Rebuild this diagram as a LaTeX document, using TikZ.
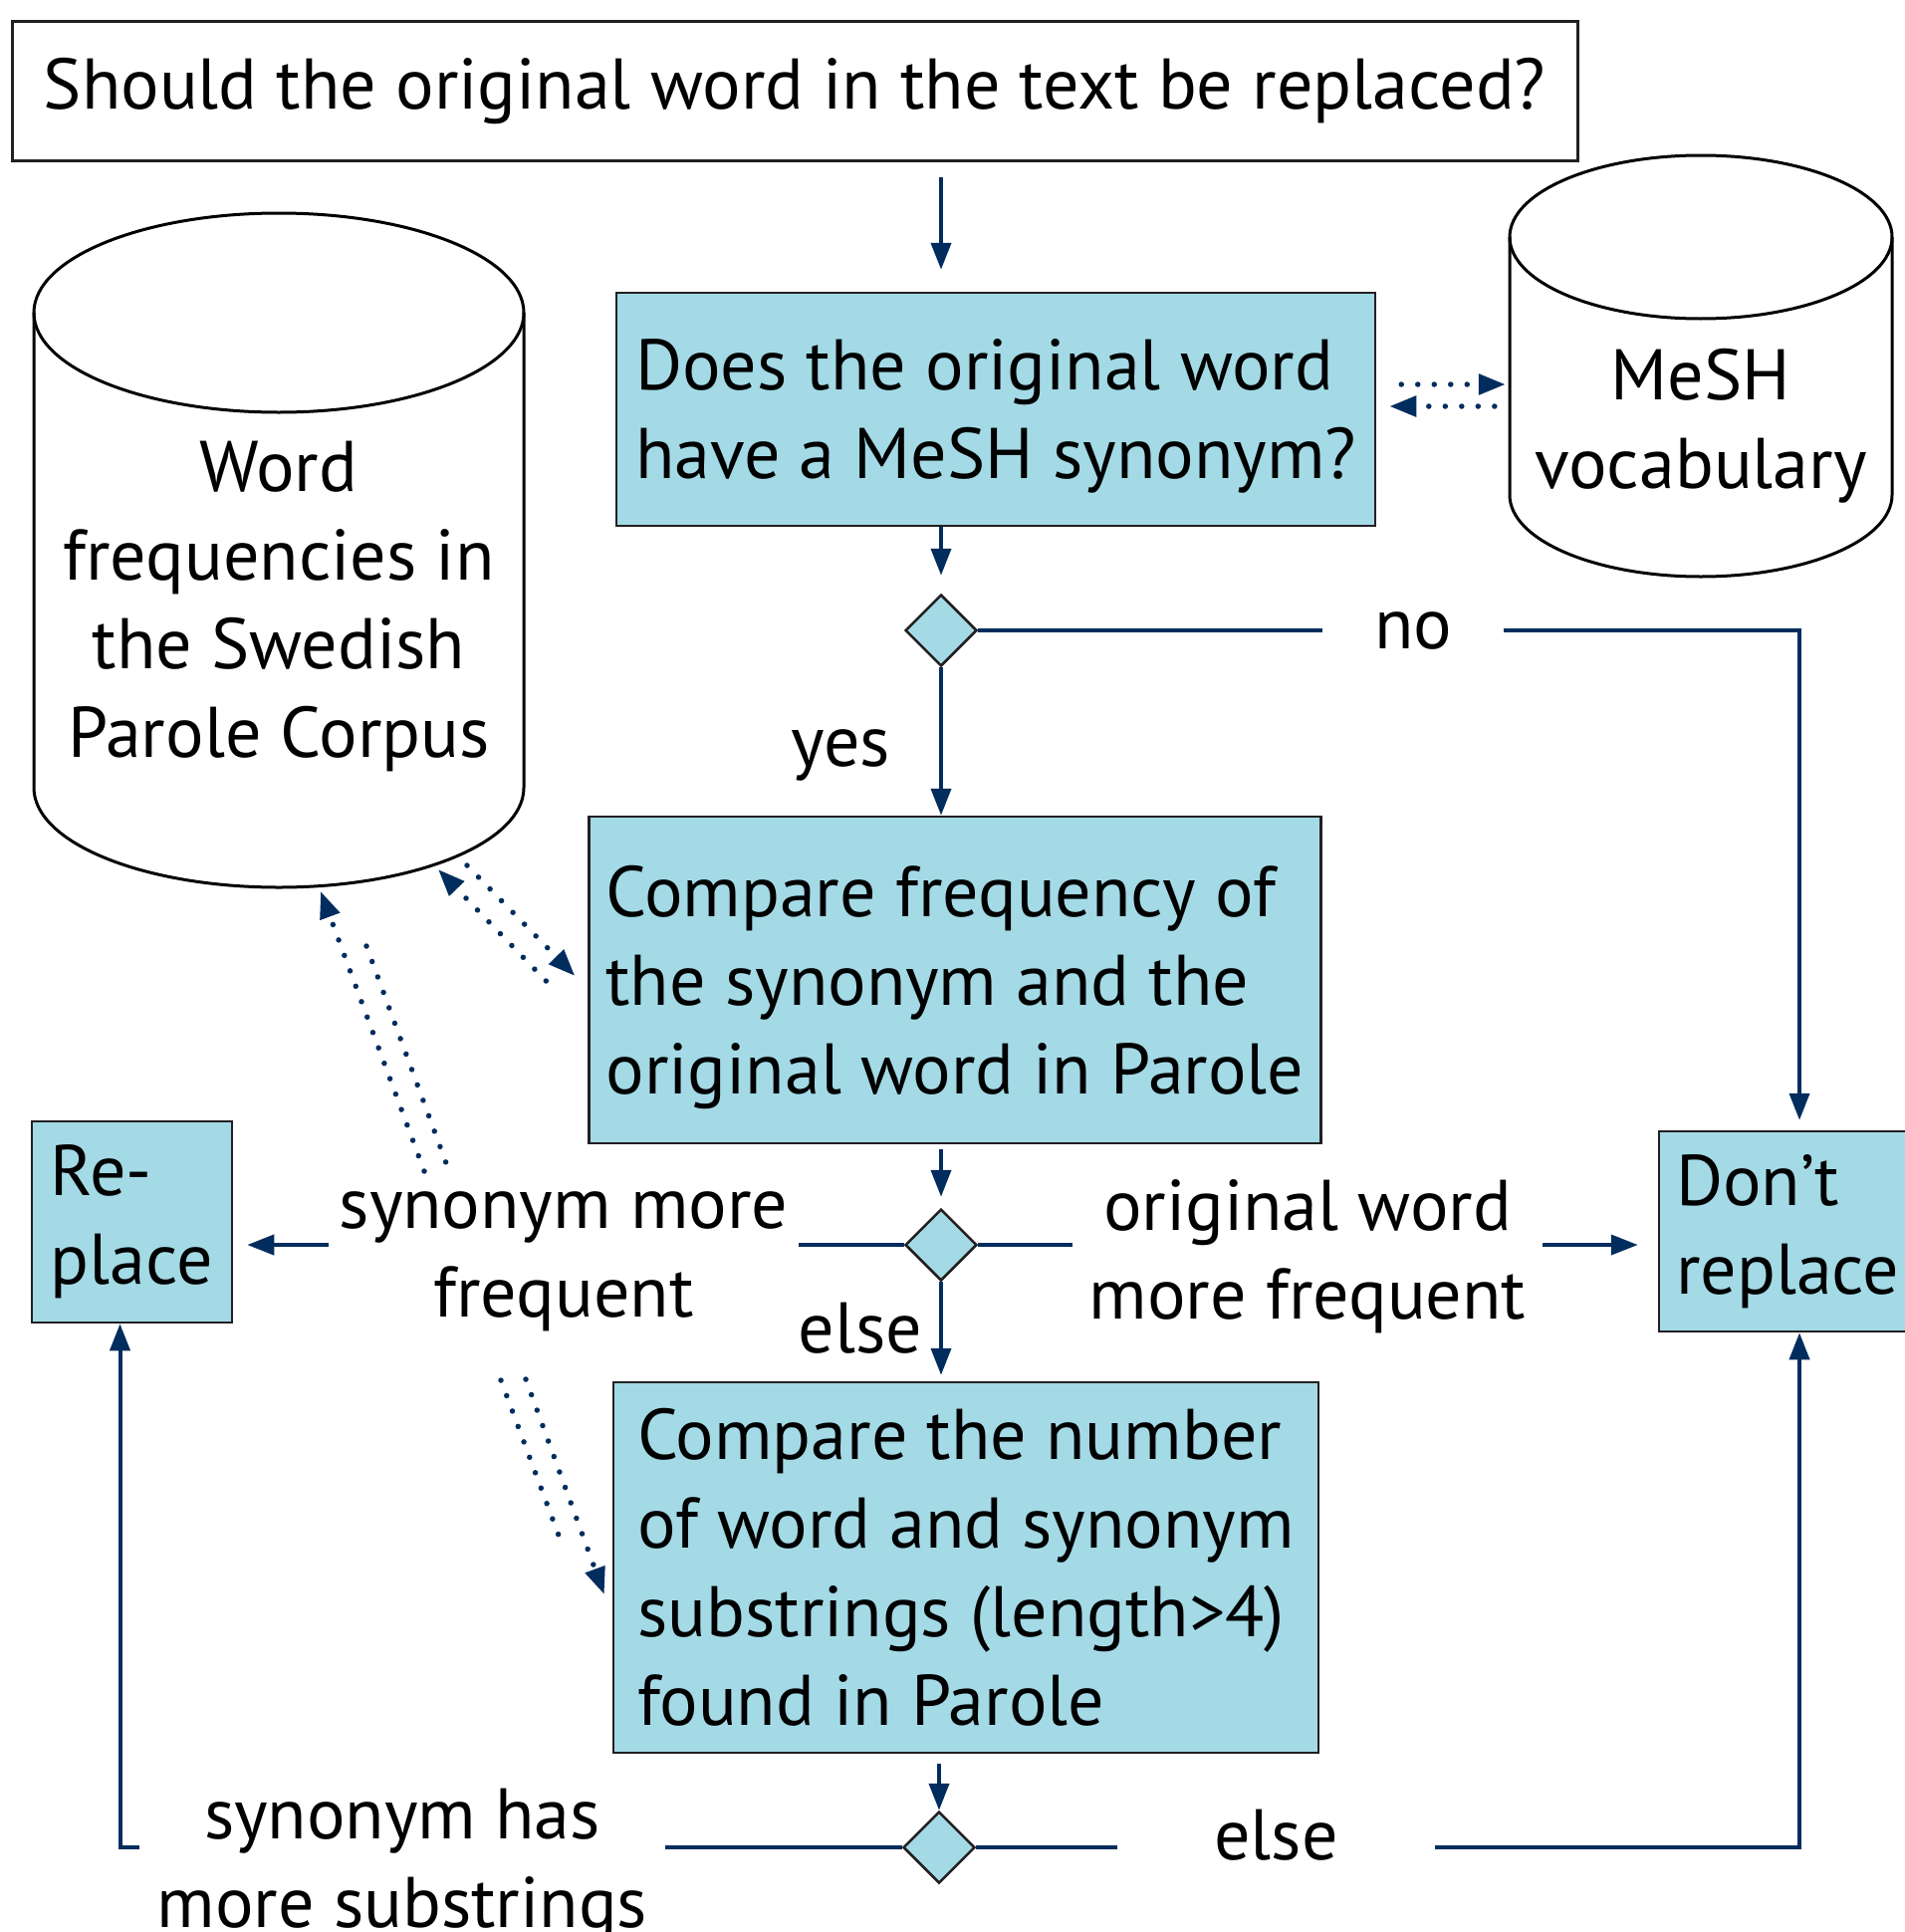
\documentclass[tikz,border=0pt]{standalone}
\usepackage{fontspec}
\setmainfont{PT Sans}
\usepackage{tikz}
\usetikzlibrary{calc,positioning,arrows.meta,shapes.geometric}
\definecolor{flowblue}{RGB}{0,45,94}
\definecolor{boxfill}{RGB}{163,218,230}
\definecolor{boxline}{RGB}{35,31,32}
\tikzset{
  question/.style={
      draw=boxline,
      line width=3pt,
      minimum width=1572pt,
      minimum height=139pt,
  },
  stepbox/.style={
      draw=boxline,
      fill=boxfill,
      line width=2.5pt,
      align=left,
      inner xsep=17pt,
  },
  decision/.style={
      diamond,
      draw=boxline,
      fill=boxfill,
      line width=2.5pt,
      minimum width=72pt,
      minimum height=72pt,
      inner sep=0pt,
  },
  dbtext/.style={
      align=center,
      inner sep=0pt,
  },
  dbline/.style={
      draw=black,
      line width=3pt,
  },
  branch/.style={
      align=center,
      inner sep=0pt,
  },
  line/.style={
      draw=flowblue,
      line width=4pt,
  },
  flow/.style={
      line,
      -{Triangle[length=27pt,width=20pt]},
  },
  dotline/.style={
      draw=flowblue,
      line width=5.5pt,
      line cap=round,
      dash pattern=on 0pt off 16.5pt,
  },
  dotflow/.style={
      dotline,
      -{Triangle[length=27pt,width=20pt]},
  },
}

\begin{document}
\begin{tikzpicture}[x=1pt,y=-1pt,font=\fontsize{72}{89}\selectfont]
  \useasboundingbox (0,0) rectangle (1913,1940);
  \clip (0,0) rectangle (1913,1940);

  % question and steps
  \node[question] (q) at (798,91.5) {Should the original word in the text be replaced?};
  \node[stepbox, minimum width=762pt, minimum height=234pt, text depth=0pt] (mesh) at (1000,411)
    {Does the original word\\have a MeSH synonym?};
  \node[stepbox, minimum width=728pt, minimum height=328pt, text depth=0pt] (compare) at (959,984)
    {Compare frequency of\\the synonym and the\\original word in Parole};
  \node[stepbox, minimum width=708pt, minimum height=372pt] (substr) at (970,1574)
    {Compare the number\\of word and synonym\\substrings (length>4)\\found in Parole};
  \node[stepbox, minimum width=201pt, minimum height=202pt] (replace) at (132.5,1227)
    {Re-\\place};
  \node[stepbox, text width=248pt, minimum height=201pt] (dont) at (1807,1236.5)
    {Don’t\\replace};

  % decisions
  \node[decision] (d1) at (945,633) {};
  \node[decision] (d2) at (945,1250) {};
  \node[decision] (d3) at (943,1855) {};

  % databases
  \node[dbtext, minimum width=492pt] (wordfreq) at (280,609)
    {Word\\frequencies in\\the Swedish\\Parole Corpus};
  \draw[dbline] (280,314) ellipse [x radius=246pt, y radius=100pt];
  \draw[dbline] (34,314) -- (34,791)
    arc[start angle=180, end angle=360, x radius=246pt, y radius=100pt] -- (526,314);
  \node[dbtext, minimum width=384pt] (meshdb) at (1708,428) {MeSH\\vocabulary};
  \draw[dbline] (1708,238) ellipse [x radius=192pt, y radius=82pt];
  \draw[dbline] (1516,238) -- (1516,497)
    arc[start angle=180, end angle=360, x radius=192pt, y radius=82pt] -- (1900,238);

  % branch texts
  \node[branch, minimum width=182pt] (no) at (1419,633) {no};
  \node[branch] (yes) at (844,758) {yes};
  \node[branch, minimum width=472pt] (synfreq) at (566,1267) {synonym more\\frequent};
  \node[branch, minimum width=472pt] (origfreq) at (1313,1262) {original word\\more frequent};
  \node[branch] (else1) at (864,1334) {else};
  \node[branch, minimum width=528pt] (synsub) at (404,1873) {synonym has\\more substrings};
  \node[branch, minimum width=319pt] (else2) at (1281.5,1843) {else};

  % flow
  \draw[flow, shorten <=15pt, shorten >=22pt] (q.south -| d1.north) -- (mesh.north -| d1.north);
  \draw[flow, shorten >=18pt] (mesh.south -| d1.north) -- (d1.north);
  \draw[line] (d1.east) -- (no.west |- d1.east);
  \draw[flow, shorten >=10pt] (no.east |- d1.east) -| (dont.north);
  \draw[flow] (d1.south) -- (d1.south |- compare.north);
  \draw[flow, shorten <=5pt, shorten >=11pt] (compare.south -| d2.north) -- (d2.north);
  \draw[line] (d2.west) -- (synfreq.east |- d2.west);
  \draw[flow, shorten >=14pt] (synfreq.west |- d2.west) -- (d2.west -| replace.east);
  \draw[line] (d2.east) -- (origfreq.west |- d2.east);
  \draw[flow, shorten >=20pt] (origfreq.east |- d2.east) -- (d2.east -| dont.west);
  \draw[flow, shorten >=6pt] (d2.south) -- (d2.south |- substr.north);
  \draw[flow, shorten <=10pt] (substr.south -| d3.north) -- (d3.north);
  \draw[line] (d3.west) -- (synsub.east |- d3.west);
  \draw[flow] (synsub.west |- d3.west) -| ([xshift=-12pt]replace.south);
  \draw[line] (d3.east) -- (else2.west |- d3.east);
  \draw[flow] (else2.east |- d3.east) -| (dont.south);

  % lookups
  \draw[dotflow] ($(mesh.east)+(25,-25)$) -- ($(meshdb.west |- mesh.east)+(-4,-25)$);
  \draw[dotflow] ($(meshdb.west |- mesh.east)+(-15,-3)$) -- ($(mesh.east)+(13,-3)$);
  \coordinate (wf-a) at (469,869);
  \coordinate (wf-b) at (440,873);
  \coordinate (wf-c) at (322,895);
  \coordinate (wf-d) at (368,950);
  \draw[dotflow] (wf-a) -- ($(compare.west)+(-13,-4)$);
  \draw[dotflow] ($(compare.west)+(-42,1)$) -- (wf-b);
  \draw[dotflow] (426,1176) -- (wf-c);
  \draw[dotline] (wf-d) -- (451,1176);
  \draw[dotflow] (528,1385) -- ($(substr.west)+(-8,27)$);
  \draw[dotline] (503,1386) -- (563,1547);
\end{tikzpicture}
\end{document}
